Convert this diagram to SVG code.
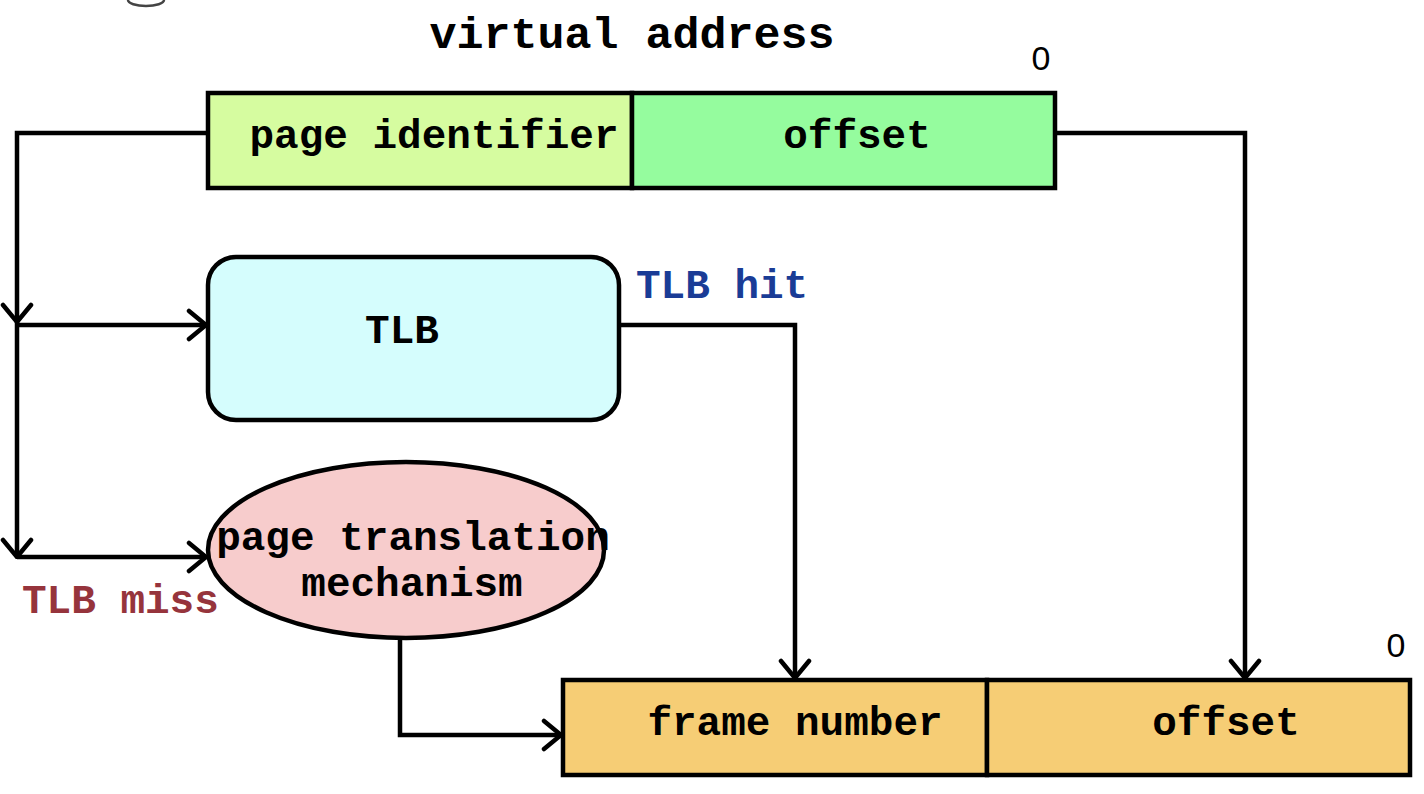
<svg xmlns="http://www.w3.org/2000/svg" width="1424" height="794" viewBox="0 0 1424 794">
<style>
.t{font-family:"Liberation Mono","Courier New",monospace;font-weight:bold;font-size:41px;fill:#000}
.z{font-family:"Liberation Sans",Arial,sans-serif;font-size:34px;fill:#000}
.box{stroke:#000;stroke-width:4.5}
.c{fill:none;stroke:#000;stroke-width:4.5;stroke-linejoin:miter}
</style>
<defs>
<marker id="ah" viewBox="-22 -18 24 36" refX="0" refY="0" markerWidth="24" markerHeight="36" markerUnits="userSpaceOnUse" orient="auto">
<path d="M-17,-14 L0,0 L-17,14" fill="none" stroke="#000" stroke-width="4.5" stroke-linecap="round" stroke-linejoin="miter"/>
</marker>
</defs>
<rect width="1424" height="794" fill="#fff"/>
<path d="M128,0 A18,6 0 0 0 164,0" fill="none" stroke="#444" stroke-width="2.5"/>
<text class="t" x="632" y="48" text-anchor="middle" style="font-size:45px">virtual address</text>
<g id="connectors">
<path class="c" d="M208,133 H17 V322" marker-end="url(#ah)"/>
<path class="c" d="M17,322 V557" marker-end="url(#ah)"/>
<path class="c" d="M17,325 H206" marker-end="url(#ah)"/>
<path class="c" d="M17,557 H206" marker-end="url(#ah)"/>
<path class="c" d="M619,325 H795 V678" marker-end="url(#ah)"/>
<path class="c" d="M400,638 V735 H561" marker-end="url(#ah)"/>
<path class="c" d="M1055,133 H1245 V678" marker-end="url(#ah)"/>
</g>
<g id="virtual-address">
<rect class="box" x="208" y="93" width="424" height="95" fill="#d6fca0"/>
<rect class="box" x="632" y="93" width="423" height="95" fill="#95fc9e"/>
<text class="t" x="434" y="148" text-anchor="middle">page identifier</text>
<text class="t" x="857" y="148" text-anchor="middle">offset</text>
<text class="z" x="1041" y="70" text-anchor="middle">0</text>
</g>
<g id="tlb">
<rect class="box" x="208" y="257" width="411" height="163" rx="28" fill="#d5fdfd"/>
<text class="t" x="402" y="343" text-anchor="middle">TLB</text>
</g>
<g id="page-translation">
<ellipse class="box" cx="406" cy="550" rx="198" ry="88" fill="#f7cccc"/>
<text class="t" x="413" y="550" text-anchor="middle">page translation</text>
<text class="t" x="412" y="596" text-anchor="middle">mechanism</text>
</g>
<g id="physical-address">
<rect class="box" x="563" y="680" width="424" height="95" fill="#f6cd75"/>
<rect class="box" x="987" y="680" width="423" height="95" fill="#f6cd75"/>
<text class="t" x="795" y="735" text-anchor="middle">frame number</text>
<text class="t" x="1226" y="735" text-anchor="middle">offset</text>
<text class="z" x="1396" y="657" text-anchor="middle">0</text>
</g>
<text class="t" x="636" y="298" style="fill:#1a3c96">TLB hit</text>
<text class="t" x="22" y="613" style="fill:#96343c">TLB miss</text>
</svg>
